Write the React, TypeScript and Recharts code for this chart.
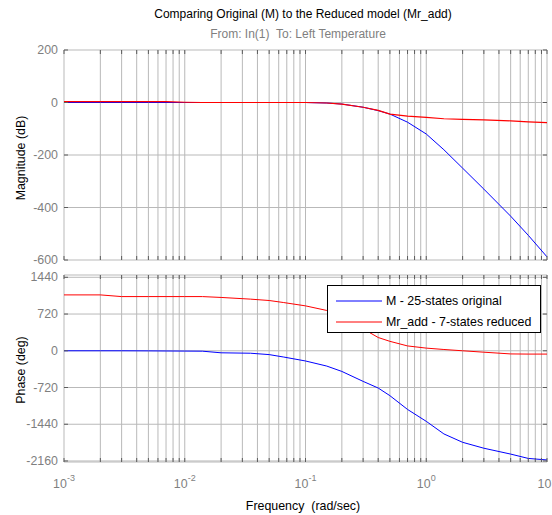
import React from "react";
import {
  LineChart,
  Line,
  XAxis,
  YAxis,
  CartesianGrid,
  ReferenceArea,
  Legend,
} from "recharts";

// Frequency (rad/sec) at which both responses were read
const frequency = [
  0.001, 0.002, 0.003, 0.005, 0.007, 0.01, 0.014, 0.02, 0.035, 0.05, 0.066, 0.1,
  0.15, 0.2, 0.3, 0.4, 0.5, 0.7, 1, 1.4, 2, 3, 5, 7, 10,
];

// Magnitude (dB)
const magOriginal = [
  0, 0, 0, 0, 0, 0, 0, 0, 0, 0, 0, 0,
  -2, -6, -18, -31, -44, -75, -120, -180, -250, -330, -433, -506, -588,
];
const magReduced = [
  3, 3, 3, 3, 3, 1, 0, 0, 0, 0, 0, 0,
  -2, -6, -18, -30, -44, -52, -57, -62, -64, -66, -70, -74, -77,
];

// Phase (deg)
const phaseOriginal = [
  0, 0, 0, -2, -4, -6, -8, -40, -48, -75, -123, -200,
  -300, -405, -600, -730, -880, -1150, -1383, -1630, -1794, -1910, -2025, -2110, -2140,
];
const phaseReduced = [
  1095, 1095, 1062, 1062, 1062, 1062, 1062, 1045, 1012, 985, 945, 880,
  790, 680, 430, 260, 185, 95, 52, 25, 0, -28, -62, -65, -65,
];

const seriesNames = ["M - 25-states original", "Mr_add - 7-states reduced"];

const xTicks = [
  0.001, 0.002, 0.003, 0.004, 0.005, 0.006, 0.007, 0.008, 0.009,
  0.01, 0.02, 0.03, 0.04, 0.05, 0.06, 0.07, 0.08, 0.09,
  0.1, 0.2, 0.3, 0.4, 0.5, 0.6, 0.7, 0.8, 0.9,
  1, 2, 3, 4, 5, 6, 7, 8, 9, 10,
];
const magTicks = [-600, -400, -200, 0, 200];
const phaseTicks = [-2160, -1440, -720, 0, 720, 1440];

const rows = frequency.map((f, i) => ({
  f,
  magOriginal: magOriginal[i],
  magReduced: magReduced[i],
  phaseOriginal: phaseOriginal[i],
  phaseReduced: phaseReduced[i],
}));

const FONT = "'Liberation Sans', Arial, sans-serif";
const TICK_GREY = "#7f7f7f";
const FRAME = "#5c5c5c";
const GRID = "#b9b9b9";
const PLOT_RIGHT = 547;

const XTick = (props: any) => {
  const { x, y, payload, top, showLabel } = props;
  const v = payload.value as number;
  const exp = Math.round(Math.log10(v));
  const isDecade = Math.abs(Math.pow(10, exp) - v) < 1e-9;
  return (
    <g>
      <line x1={x} x2={x} y1={y} y2={y - 4} stroke={FRAME} />
      <line x1={x} x2={x} y1={top} y2={top + 4} stroke={FRAME} />
      {showLabel && isDecade && (
        <text x={x} y={y + 26} textAnchor="middle" fill={TICK_GREY} fontSize={12.4}>
          10
          <tspan dy={-7} fontSize={9}>
            {exp}
          </tspan>
        </text>
      )}
    </g>
  );
};

const YTick = (props: any) => {
  const { x, y, payload } = props;
  return (
    <g>
      <text x={x - 6} y={y + 4} textAnchor="end" fill={TICK_GREY} fontSize={12.4}>
        {payload.value}
      </text>
      <line x1={x} x2={x + 4} y1={y} y2={y} stroke={FRAME} />
      <line x1={PLOT_RIGHT} x2={PLOT_RIGHT - 4} y1={y} y2={y} stroke={FRAME} />
    </g>
  );
};

const BodeLegend = ({ payload }: any) => (
  <div
    style={{
      width: 214,
      height: 48,
      boxSizing: "border-box",
      border: "1.5px solid #000",
      background: "#fff",
      fontSize: 12.4,
      color: "#000",
      paddingTop: 4,
    }}
  >
    {(payload || []).map((entry: any) => (
      <div
        key={entry.value}
        style={{ display: "flex", alignItems: "center", height: 21, whiteSpace: "nowrap" }}
      >
        <svg width={58} height={10} style={{ flex: "none" }}>
          <line x1={8} x2={54} y1={5} y2={5} stroke={entry.color} strokeWidth={1} />
        </svg>
        <span>{entry.value}</span>
      </div>
    ))}
  </div>
);

export default function App() {
  return (
    <div
      style={{
        position: "absolute",
        left: 0,
        top: 0,
        width: 552,
        height: 515,
        background: "#fff",
        fontFamily: FONT,
      }}
    >
      {/* Magnitude */}
      <div style={{ position: "absolute", left: 0, top: 0 }}>
        <LineChart width={552} height={270} data={rows} margin={{ top: 50, right: 5, bottom: 0, left: 0 }}>
          <CartesianGrid stroke={GRID} />
          <XAxis
            dataKey="f"
            type="number"
            scale="log"
            domain={[0.001, 10]}
            ticks={xTicks}
            interval={0}
            allowDataOverflow
            height={10}
            axisLine={false}
            tickLine={false}
            tickSize={0}
            tickMargin={0}
            tick={<XTick top={50} showLabel={false} />}
          />
          <YAxis
            domain={[-600, 200]}
            ticks={magTicks}
            interval={0}
            width={64}
            axisLine={false}
            tickLine={false}
            tickSize={0}
            tickMargin={0}
            tick={<YTick />}
          />
          <Line type="linear" dataKey="magOriginal" name={seriesNames[0]} stroke="#0000ff" strokeWidth={1} dot={false} isAnimationActive={false} />
          <Line type="linear" dataKey="magReduced" name={seriesNames[1]} stroke="#ff0000" strokeWidth={1.2} dot={false} isAnimationActive={false} />
          <ReferenceArea fill="none" stroke={FRAME} strokeWidth={1.2} />
        </LineChart>
      </div>

      {/* Phase */}
      <div style={{ position: "absolute", left: 0, top: 265 }}>
        <LineChart width={552} height={250} data={rows} margin={{ top: 10, right: 5, bottom: 0, left: 0 }}>
          <CartesianGrid stroke={GRID} />
          <XAxis
            dataKey="f"
            type="number"
            scale="log"
            domain={[0.001, 10]}
            ticks={xTicks}
            interval={0}
            allowDataOverflow
            height={53}
            axisLine={false}
            tickLine={false}
            tickSize={0}
            tickMargin={0}
            tick={<XTick top={10} showLabel />}
          />
          <YAxis
            domain={[-2180, 1485]}
            ticks={phaseTicks}
            interval={0}
            width={64}
            axisLine={false}
            tickLine={false}
            tickSize={0}
            tickMargin={0}
            tick={<YTick />}
          />
          <Line type="linear" dataKey="phaseOriginal" name={seriesNames[0]} stroke="#0000ff" strokeWidth={1} dot={false} isAnimationActive={false} />
          <Line type="linear" dataKey="phaseReduced" name={seriesNames[1]} stroke="#ff0000" strokeWidth={1} dot={false} isAnimationActive={false} />
          <ReferenceArea fill="none" stroke={FRAME} strokeWidth={1.2} />
          <Legend
            layout="vertical"
            align="center"
            verticalAlign="middle"
            content={<BodeLegend />}
            wrapperStyle={{ position: "absolute", left: 327, top: 20, width: 214, height: 48 }}
          />
        </LineChart>
      </div>

      {/* Titles and axis labels */}
      <svg
        width={552}
        height={515}
        style={{ position: "absolute", left: 0, top: 0, pointerEvents: "none" }}
        fontFamily={FONT}
      >
        <text x={303} y={18} textAnchor="middle" fontSize={12} fill="#000">
          Comparing Original (M) to the Reduced model (Mr_add)
        </text>
        <text x={298} y={38} textAnchor="middle" fontSize={12} fill={TICK_GREY} style={{ whiteSpace: "pre" }}>
          From: In(1)  To: Left Temperature
        </text>
        <text x={303} y={510} textAnchor="middle" fontSize={12.4} fill="#000" style={{ whiteSpace: "pre" }}>
          Frequency  (rad/sec)
        </text>
        <text x={25} y={158} textAnchor="middle" fontSize={12.4} fill="#000" transform="rotate(-90, 25, 158)">
          Magnitude (dB)
        </text>
        <text x={25} y={370} textAnchor="middle" fontSize={12.4} fill="#000" transform="rotate(-90, 25, 370)">
          Phase (deg)
        </text>
      </svg>
    </div>
  );
}
